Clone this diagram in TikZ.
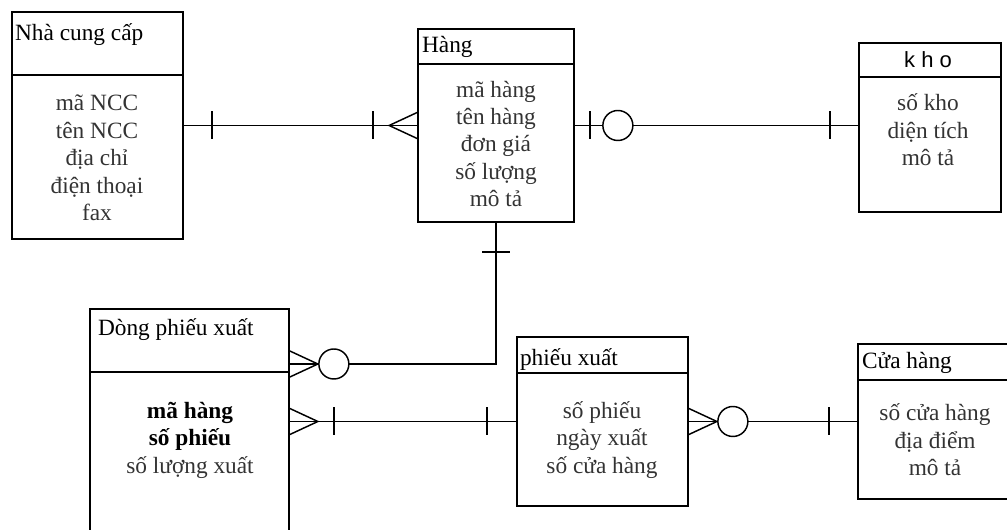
\documentclass[tikz,border=0pt]{standalone}
\usepackage{fontspec}
\setmainfont{Liberation Serif}
\newfontfamily\khofont{Liberation Sans}
\usetikzlibrary{calc,fit}

\begin{document}
\begin{tikzpicture}[
    x=0.75pt, y=-0.75pt,
    line width=1.1pt,
    entity/.style={rectangle, draw, line width=1.3pt, inner sep=0pt},
    title/.style={anchor=west, inner sep=1pt, font=\fontsize{17.5}{20}\selectfont},
    attr/.style={align=center, text=black!80, font=\fontsize{17.5}{20.6}\selectfont},
    tick/.pic={\draw (0,-14) -- (0,14);},
    ring/.pic={\draw[fill=white] (0,0) circle (15);},
    crow/.pic={\draw (0,-13) -- (-28,0) -- (0,13);}
]
\useasboundingbox (0,0) rectangle (1007,530);

% Nha cung cap
\node[entity, fit={(12,12) (183,239)}] (ncc) {};
\node[entity, fit={(12,12) (183,75)}] (ncc-h) {};
\node[title] (ncc-t) at (13,35) {Nhà cung cấp};
\node[attr] (ncc-a) at (97,158) {mã NCC\\tên NCC\\địa chỉ\\điện thoại\\fax};

% Hang
\node[entity, fit={(418,29) (574,222)}] (hang) {};
\node[entity, fit={(418,29) (574,64)}] (hang-h) {};
\node[title] (hang-t) at (420,47) {Hàng};
\node[attr] (hang-a) at (496,144) {mã hàng\\tên hàng\\đơn giá\\số lượng\\mô tả};

% kho
\node[entity, fit={(859,43) (1001,212)}] (kho) {};
\node[entity, fit={(859,43) (1001,77)}] (kho-h) {};
\node[font=\khofont\fontsize{16.5}{19}\selectfont] (kho-t) at (928,60) {k h o};
\node[attr] (kho-a) at (928,130) {số kho\\diện tích\\mô tả};

% Dong phieu xuat
\node[entity, fit={(90,309) (289,545)}] (dong) {};
\node[entity, fit={(90,309) (289,372)}] (dong-h) {};
\node[title] (dong-t) at (96,330) {Dòng phiếu xuất};
\node[attr] (dong-a) at (190,440) {{\color{black}\bfseries mã hàng}\\{\color{black}\bfseries số phiếu}\\số lượng xuất};

% phieu xuat
\node[entity, fit={(517,337) (688,506)}] (px) {};
\node[entity, fit={(517,337) (688,373)}] (px-h) {};
\node[title] (px-t) at (518,360) {phiếu xuất};
\node[attr] (px-a) at (602,440) {số phiếu\\ngày xuất\\số cửa hàng};

% Cua hang
\node[entity, fit={(858,344) (1015,499)}] (ch) {};
\node[entity, fit={(858,344) (1015,380)}] (ch-h) {};
\node[title] (ch-t) at (860,363) {Cửa hàng};
\node[attr] (ch-a) at (935,440) {số cửa hàng\\địa điểm\\mô tả};

% Nha cung cap -- Hang
\draw (ncc.east) -- (hang.west);
\pic at ($(ncc.east)+(28,0)$) {tick};
\pic at ($(hang.west)+(-44,0)$) {tick};
\pic at (hang.west) {crow};

% Hang -- kho
\draw (hang.east) -- (hang.east -| kho.west);
\pic at ($(hang.east)+(15,0)$) {tick};
\pic at ($(hang.east)+(43,0)$) {ring};
\pic at ($(hang.east -| kho.west)+(-28,0)$) {tick};

% Hang -- Dong phieu xuat
\coordinate (dong-in) at (dong.east |- 0,364);
\draw (hang.south) |- (dong-in);
\pic[rotate=90] at ($(hang.south)+(0,29)$) {tick};
\pic[rotate=180] at (dong-in) {crow};
\pic at ($(dong-in)+(44,0)$) {ring};

% Dong phieu xuat -- phieu xuat
\draw (px.west) -- (px.west -| dong.east);
\pic[rotate=180] at (px.west -| dong.east) {crow};
\pic at ($(px.west -| dong.east)+(44,0)$) {tick};
\pic at ($(px.west)+(-29,0)$) {tick};

% phieu xuat -- Cua hang
\draw (px.east) -- (ch.west);
\pic[rotate=180] at (px.east) {crow};
\pic at ($(px.east)+(44,0)$) {ring};
\pic at ($(ch.west)+(-28,0)$) {tick};

\end{tikzpicture}
\end{document}
